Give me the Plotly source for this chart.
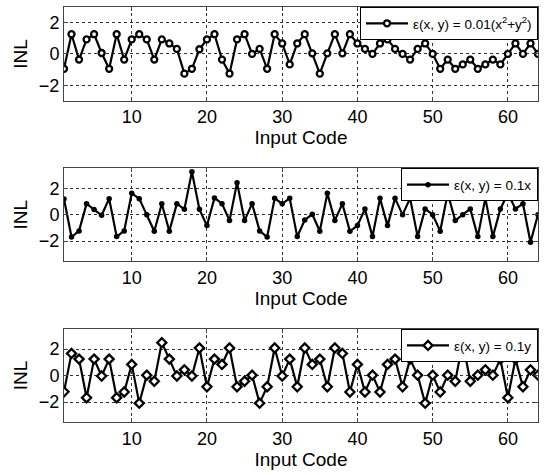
import plotly.graph_objects as go

codes = list(range(1, 65))

inl_quad = [-0.95, 1.26, -0.36, 0.93, 1.26, 0.06, -0.95, 1.26, -0.36, 0.93,
            1.26, 0.93, -0.36, 0.93, 0.67, 0.32, -1.26, -0.95, 0.30, 0.93,
            1.26, -0.36, -1.26, 0.93, 1.26, 0.0, 0.32, -0.95, 1.26, 0.67,
            -0.67, 0.67, 1.26, 0.04, -1.26, 0.04, 1.26, 0.04, 1.26, 0.67,
            0.32, 0.0, 0.67, 0.93, 0.32, 0.0, -0.36, 0.32, 0.67, 0.0,
            -0.95, -0.36, -0.95, -0.67, -0.36, -0.95, -0.67, -0.36, -0.67, 0.0,
            0.67, 0.0, 0.67, 0.0]

inl_x = [1.18, -1.69, -1.23, 0.83, 0.38, -0.05, 1.21, -1.66, -1.23, 1.61,
         1.21, 0.0, -1.26, 0.83, -1.26, 0.83, 0.40, 3.25, 0.40, -0.83,
         1.26, 0.83, -0.45, 2.42, -0.45, 0.83, -1.23, -1.69, 1.23, 0.83,
         1.23, -1.66, -0.40, 0.03, -1.26, 1.61, -0.45, 0.83, -1.26, -0.83,
         0.43, -1.66, 1.23, -0.83, 1.23, 0.0, 1.23, -1.66, 0.43, 0.0,
         -1.26, 1.61, -0.45, 0.0, 0.43, -1.66, 1.23, -1.66, 0.43, 1.61,
         0.43, 0.83, -2.09, 0.0]

inl_y = [-1.22, 1.67, 1.24, -1.67, 1.24, -0.03, 1.24, -1.67, -1.24, 0.84,
         -2.08, 0.03, -0.43, 2.48, 1.24, -0.03, 0.43, -0.03, 2.08, -0.84,
         1.24, 0.84, 2.08, -0.84, -0.43, 0.03, -2.08, -0.84, 2.08, -0.03,
         1.24, -0.84, 2.08, 0.84, 1.24, -0.84, 2.08, 1.67, -1.24, 0.84,
         -1.24, 0.03, -1.24, 0.84, 1.24, -0.84, 1.24, 0.03, -2.08, 0.03,
         -1.24, 0.03, -0.43, 2.48, -0.43, 0.03, 0.43, 0.03, 1.24, -1.67,
         1.24, -0.84, 0.43, 0.03]

names = ["ε(x, y) = 0.01(x<sup>2</sup>+y<sup>2</sup>)", "ε(x, y) = 0.1x", "ε(x, y) = 0.1y"]
x_ticks = [10, 20, 30, 40, 50, 60]
y_ticks = [-2, 0, 2]
y_ranges = [[-3, 3], [-3.5, 3.5], [-3.5, 3.5]]

FONT = "Liberation Sans, Arial, sans-serif"
domains = [[0.7738, 1.0], [0.3881, 0.6112], [0.0, 0.2238]]
markers = [
    dict(symbol="circle", size=6, color="white", line=dict(color="black", width=2.3)),
    dict(symbol="circle", size=5.5, color="black", line=dict(color="black", width=0)),
    dict(symbol="diamond", size=7, color="white", line=dict(color="black", width=2.3)),
]
series = [inl_quad, inl_x, inl_y]

fig = go.Figure()
for i in range(3):
    sfx = "" if i == 0 else str(i + 1)
    fig.add_trace(go.Scatter(
        x=codes, y=series[i], mode="lines+markers", name=names[i],
        line=dict(color="black", width=2.2), marker=markers[i],
        xaxis="x" + sfx, yaxis="y" + sfx, legend="legend" + sfx,
    ))
    axcommon = dict(showline=True, linecolor="#444", linewidth=1, mirror="ticks",
                    ticks="inside", ticklen=4, tickcolor="#444",
                    showgrid=True, gridcolor="#333", griddash="3px,3px", gridwidth=0.8,
                    zeroline=False, tickfont=dict(family=FONT, size=18, color="black"))
    fig.layout["xaxis" + sfx] = dict(
        domain=[0, 1], anchor="y" + sfx, range=[1, 64], tickvals=x_ticks,
        title=dict(text="Input Code", font=dict(family=FONT, size=19, color="black"), standoff=4),
        **axcommon)
    fig.layout["yaxis" + sfx] = dict(
        domain=domains[i], anchor="x" + sfx, range=y_ranges[i], tickvals=y_ticks,
        title=dict(text="INL", font=dict(family=FONT, size=19, color="black"), standoff=6),
        **axcommon)
    fig.layout["legend" + sfx] = dict(
        x=1, xanchor="right", y=domains[i][1], yanchor="top", xref="paper", yref="paper",
        bgcolor="white", bordercolor="black", borderwidth=1,
        font=dict(family=FONT, size=13.5, color="black"), itemwidth=42,
        tracegroupgap=0)

fig.update_layout(
    width=552, height=475, showlegend=True,
    margin=dict(l=64, r=14, t=7, b=53),
    paper_bgcolor="white", plot_bgcolor="white",
    font=dict(family=FONT, color="black"),
)
fig.write_html("out.html", config={"displayModeBar": False},
               post_script="document.body.style.margin='0';document.body.style.overflow='hidden';")
